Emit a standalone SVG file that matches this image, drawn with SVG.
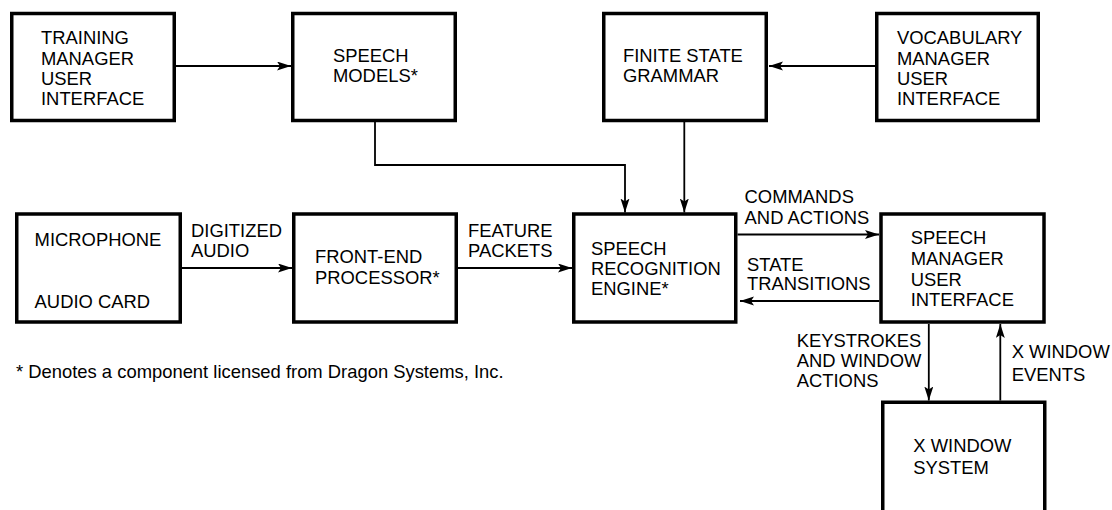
<svg xmlns="http://www.w3.org/2000/svg" width="1112" height="510" viewBox="0 0 1112 510">
<style>
.box{fill:#fff;stroke:#000;stroke-width:3.5}
text{font-family:"Liberation Sans",Arial,Helvetica,sans-serif;font-size:18.4px;fill:#000}
.ln{fill:none;stroke:#000;stroke-width:1.8}
.ar{marker-end:url(#ah)}
</style>
<defs>
<marker id="ah" markerUnits="userSpaceOnUse" markerWidth="15" markerHeight="10" refX="14" refY="4.5" orient="auto">
<path d="M0,0 L14,4.5 L0,9 L3,4.5 z" fill="#000"/>
</marker>
</defs>
<rect width="1112" height="510" fill="#fff"/>
<g id="training">
<rect class="box" x="11.75" y="13.5" width="162.5" height="107"/>
<text x="41" y="44.3">TRAINING</text><text x="41" y="64.6">MANAGER</text><text x="41" y="85">USER</text><text x="41" y="105.3">INTERFACE</text>
</g>
<g id="speech-models">
<rect class="box" x="292.75" y="13.5" width="162.5" height="107"/>
<text x="333" y="61.7">SPEECH</text><text x="333" y="82">MODELS*</text>
</g>
<g id="fsg">
<rect class="box" x="603.75" y="13.5" width="162.5" height="107"/>
<text x="623" y="61.7">FINITE STATE</text><text x="623" y="82">GRAMMAR</text>
</g>
<g id="vocab">
<rect class="box" x="876.75" y="13.5" width="161.5" height="107"/>
<text x="897" y="44.3">VOCABULARY</text><text x="897" y="64.6">MANAGER</text><text x="897" y="85">USER</text><text x="897" y="105.3">INTERFACE</text>
</g>
<g id="microphone">
<rect class="box" x="16.75" y="214" width="163.5" height="108"/>
<text x="34.6" y="245.7">MICROPHONE</text><text x="34.6" y="307.7">AUDIO CARD</text>
</g>
<g id="frontend">
<rect class="box" x="293.75" y="214" width="162.5" height="108"/>
<text x="315" y="263.3">FRONT-END</text><text x="315" y="283.5">PROCESSOR*</text>
</g>
<g id="sre">
<rect class="box" x="573.75" y="214" width="162" height="108"/>
<text x="591" y="255">SPEECH</text><text x="591" y="275">RECOGNITION</text><text x="591" y="295">ENGINE*</text>
</g>
<g id="smui">
<rect class="box" x="881" y="214" width="163" height="108"/>
<text x="910.7" y="244.3">SPEECH</text><text x="910.7" y="265">MANAGER</text><text x="910.7" y="285.6">USER</text><text x="910.7" y="306">INTERFACE</text>
</g>
<g id="xws">
<rect class="box" x="882.75" y="402.25" width="162" height="120"/>
<text x="913.3" y="452.3">X WINDOW</text><text x="913.3" y="474">SYSTEM</text>
</g>
<g id="connectors">
<path class="ln ar" d="M174 66 H291"/>
<path class="ln ar" d="M875 66 H769"/>
<path class="ln ar" d="M375 121 V165 H625 V212.5"/>
<path class="ln ar" d="M684.3 121 V212.5"/>
<path class="ln ar" d="M182 268 H292"/>
<path class="ln ar" d="M458 268 H572"/>
<path class="ln ar" d="M737.5 234.5 H879"/>
<path class="ln ar" d="M879.3 301 H740"/>
<path class="ln ar" d="M928.8 324 V400.5"/>
<path class="ln ar" d="M1000.3 400.5 V324"/>
</g>
<g id="labels">
<text x="191" y="237.3">DIGITIZED</text><text x="191" y="257.3">AUDIO</text>
<text x="468" y="237.3">FEATURE</text><text x="468" y="257.3">PACKETS</text>
<text x="744.6" y="203.3">COMMANDS</text><text x="744.6" y="224">AND ACTIONS</text>
<text x="747" y="270.7">STATE</text><text x="747" y="290.3">TRANSITIONS</text>
<text x="796.7" y="346.7">KEYSTROKES</text><text x="796.7" y="366.7">AND WINDOW</text><text x="796.7" y="386.7">ACTIONS</text>
<text x="1011.7" y="357.5">X WINDOW</text><text x="1011.7" y="380.5">EVENTS</text>
<text x="16" y="377.5">* Denotes a component licensed from Dragon Systems, Inc.</text>
</g>
</svg>
